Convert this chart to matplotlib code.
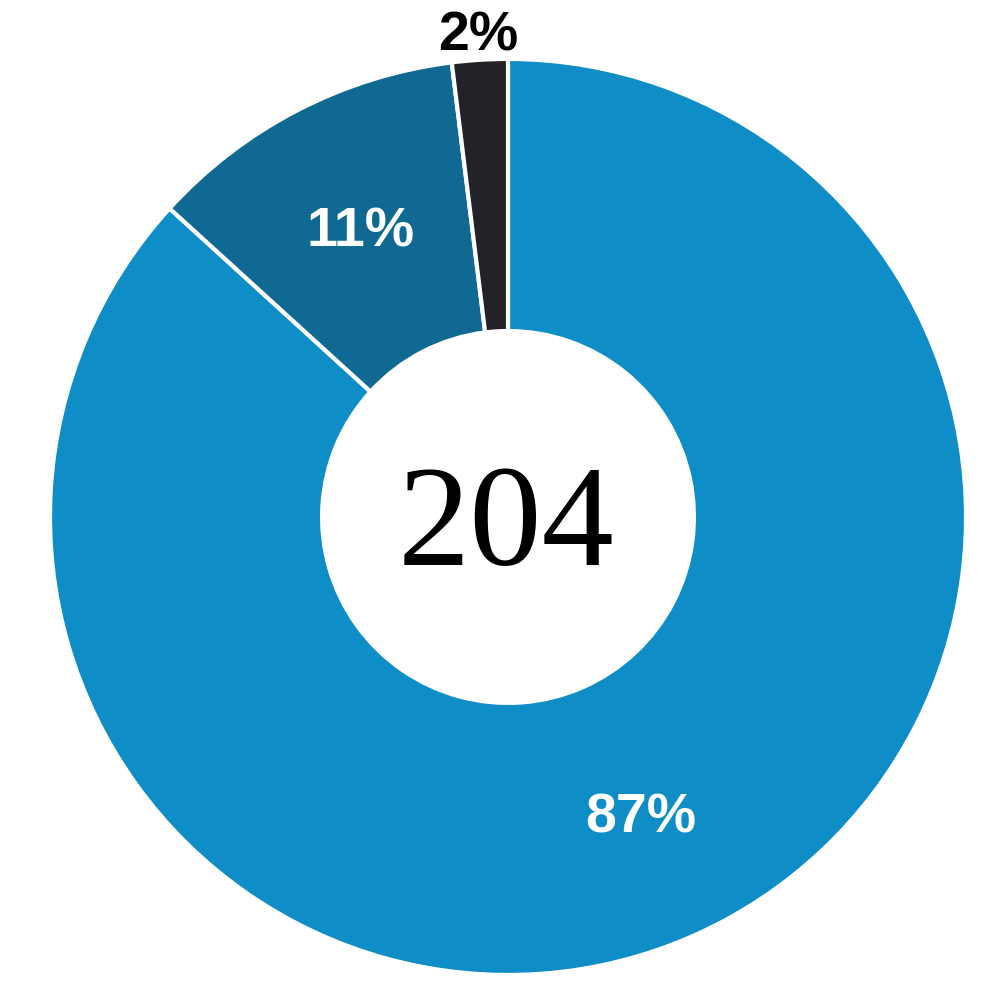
import matplotlib.pyplot as plt
import numpy as np

# Constants
COUNTS = [177, 23, 4]
TOTAL_LABEL = '204'
COLORS = ['#0e8dc6', '#106992', '#222228']
LABEL_COLORS = ['white', 'white', 'black']
LABEL_RADIUS = [0.72, 0.70, 1.05]


fig = plt.figure(figsize=(9.96, 9.96), dpi=100)
ax = fig.add_axes([0.0502, 0.0211, 0.9197, 0.9197])

wedges, _ = ax.pie(COUNTS, colors=COLORS, startangle=90, counterclock=False,
                   radius=1.0, wedgeprops=dict(width=0.594, edgecolor='white', linewidth=3))

total = sum(COUNTS)
for w, n, r, c in zip(wedges, COUNTS, LABEL_RADIUS, LABEL_COLORS):
    mid = np.deg2rad((w.theta1 + w.theta2) / 2)
    ax.text(r * np.cos(mid), r * np.sin(mid), '{}%'.format(round(100 * n / total)),
            ha='center', va='center', fontsize=40, fontweight='bold',
            family='Liberation Sans', color=c, clip_on=False)

ax.text(-0.005, -0.03, TOTAL_LABEL, ha='center', va='center', fontsize=104,
        family='Liberation Serif', color='black')

ax.set_xlim(-1, 1)
ax.set_ylim(-1, 1)
ax.set_aspect('equal')
ax.axis('off')
plt.savefig('out.png', dpi=100, facecolor='white')
